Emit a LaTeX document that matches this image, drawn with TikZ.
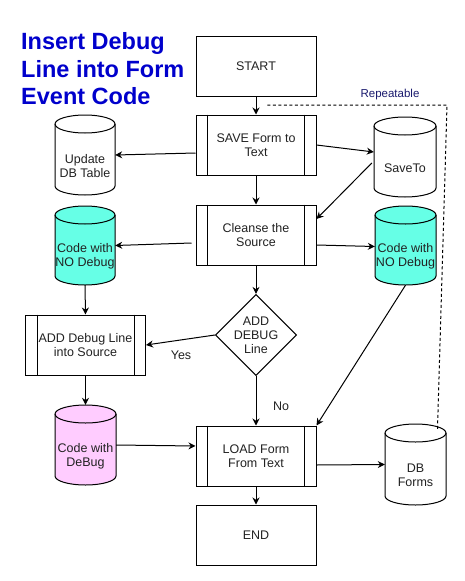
\documentclass[tikz,border=0pt]{standalone}
\usepackage{fontspec}
\setmainfont{Liberation Sans}
\usetikzlibrary{arrows.meta,calc,shapes.geometric}
\definecolor{titleblue}{HTML}{0000CC}
\definecolor{cyanfill}{HTML}{66FFE6}
\definecolor{pinkfill}{HTML}{FFCCFF}
\definecolor{navytxt}{HTML}{1A1A6E}
\definecolor{txt}{HTML}{222222}
\tikzset{
  base/.style={font=\fontsize{12.5}{14}\selectfont, text=txt, align=center},
  proc/.style={base, draw, line width=1pt, minimum width=120pt, minimum height=60pt, inner sep=0pt},
  termbox/.style={proc},
  decis/.style={base, draw, line width=1pt, shape=diamond, minimum width=80pt, minimum height=80pt, inner sep=0pt, aspect=1},
  cylline/.style={line width=1pt},
  cylanchor/.style={draw=none, inner sep=0pt},
  cyltext/.style={base},
  arr/.style={line width=1pt, -{Stealth[length=7pt,width=7pt]}},
  lbl/.style={base},
  dashline/.style={line width=1pt, dash pattern=on 3pt off 2.5pt}
}
% name, x0, y0, x1, y1, fill, text
\newcommand{\dbcyl}[7]{%
  \pgfmathsetmacro{\myrx}{(#4-#2)/2}%
  \pgfmathsetmacro{\mycw}{#4-#2}%
  \pgfmathsetmacro{\mych}{#5-#3}%
  \draw[cylline, fill=#6] (#2,#3+9) -- (#2,#5-9) arc[start angle=180,end angle=360,x radius=\myrx pt,y radius=9pt] -- (#4,#3+9) arc[start angle=0,end angle=180,x radius=\myrx pt,y radius=9pt] -- cycle;
  \draw[cylline] (#2,#3+9) arc[start angle=180,end angle=360,x radius=\myrx pt,y radius=9pt];
  \node[cylanchor, minimum width=\mycw pt, minimum height=\mych pt] (#1) at ({(#2+#4)/2},{(#3+#5)/2}) {};
  \node[cyltext] (#1-t) at ($(#1.center)+(0,11)$) {#7};
}
\newcommand{\sidebars}[1]{%
  \draw[line width=1pt] ([xshift=12pt]#1.north west) -- ([xshift=12pt]#1.south west);
  \draw[line width=1pt] ([xshift=-12pt]#1.north east) -- ([xshift=-12pt]#1.south east);
}
\begin{document}
\begin{tikzpicture}[x=1pt,y=-1pt]
\path[use as bounding box, fill=white] (0,0) rectangle (464,581);

% title
\node[anchor=north west, align=left, inner sep=0pt, text=titleblue,
      font=\fontsize{23.5}{27.5}\selectfont\bfseries] (title) at (21,32.5)
  {Insert Debug\\Line into Form\\Event Code};

% process column
\node[termbox] (start) at (256,66) {START};
\node[proc] (save) at (256,145) {SAVE Form to\\Text};
\sidebars{save}
\node[proc] (cleanse) at (256,235) {Cleanse the\\Source};
\sidebars{cleanse}
\node[decis] (dec) at (256,335) {ADD\\DEBUG\\Line};
\node[proc] (load) at (256,456) {LOAD Form\\From Text};
\sidebars{load}
\node[termbox] (end) at (256,535) {END};
\node[proc] (add) at (85.5,345) {ADD Debug Line\\into Source};
\sidebars{add}

% cylinders
\dbcyl{updb}{55}{115}{115}{195}{white}{Update\\DB Table}
\dbcyl{lcode}{55}{206}{115}{285}{cyanfill}{Code with\\NO Debug}
\dbcyl{dbg}{55}{405}{116}{485}{pinkfill}{Code with\\DeBug}
\dbcyl{saveto}{374}{117}{436}{197}{white}{SaveTo}
\dbcyl{rcode}{375}{206}{436}{285}{cyanfill}{Code with\\NO Debug}
\dbcyl{dbforms}{385}{424}{446}{505}{white}{DB\\Forms}

% connectors
\draw[arr] (start.south) -- (save.north);
\draw[arr] ([yshift=-8pt]save.west) -- (updb.east);
\draw[arr] (save.east) -- ([yshift=5pt]saveto.west);
\draw[arr] (save.south) -- (cleanse.north);
\draw[arr] ([yshift=-6pt,xshift=-2pt]saveto.west) -- ([yshift=16pt]cleanse.east);
\draw[arr] ([yshift=-8pt,xshift=-4pt]cleanse.west) -- (lcode.east);
\draw[arr] ([yshift=-10pt]cleanse.east) -- ([yshift=-1pt]rcode.west);
\draw[arr] (cleanse.south) -- (dec.north);
\draw[arr] (lcode.south) -- (add.north);
\draw[arr] (dec.west) -- (add.east);
\node[lbl] (yes) at (181,355) {Yes};
\draw[arr] (add.south) -- (dbg.north);
\draw[arr] (dec.south) -- (load.north);
\node[lbl] (no) at (281,406) {No};
\draw[arr] (rcode.south) -- (load.north east);
\draw[arr] (dbg.east) -- ([yshift=10pt]load.west);
\draw[arr] ([yshift=-9pt]load.east) -- (dbforms.west);
\draw[arr] (load.south) -- (end.north);

% repeatable dashed loop
\coordinate (rp1) at (447,105);
\coordinate (rp2) at (265,105);
\draw[dashline] ($(dbforms.north)+(22,5)$) -- (rp1) -- (rp2);
\node[font=\fontsize{11.5}{13}\selectfont, text=navytxt] (rep) at (390,95) {Repeatable};
\end{tikzpicture}
\end{document}
